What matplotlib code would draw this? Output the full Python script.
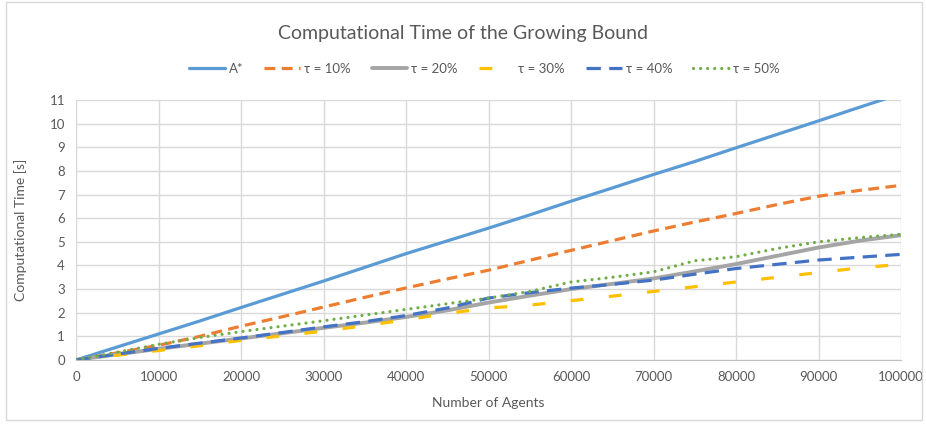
import matplotlib
matplotlib.use("Agg")
import matplotlib.pyplot as plt
from matplotlib.patches import Rectangle

plt.rcParams['font.family'] = ['Lato', 'DejaVu Sans']

# Number of agents (x) and run times in seconds for each bound setting
agents = [0, 5000, 10000, 15000, 20000, 25000, 30000, 35000, 40000, 45000, 50000,
          55000, 60000, 65000, 70000, 75000, 80000, 85000, 90000, 95000, 100000]
astar = [0, 0.55, 1.1, 1.65, 2.22, 2.78, 3.34, 3.92, 4.5, 5.04, 5.58,
         6.14, 6.72, 7.28, 7.85, 8.4, 8.98, 9.55, 10.12, 10.7, 11.27]
tau10 = [0, 0.3, 0.62, 1.0, 1.43, 1.83, 2.24, 2.65, 3.05, 3.43, 3.8,
         4.22, 4.64, 5.05, 5.46, 5.84, 6.2, 6.58, 6.93, 7.18, 7.39]
tau20 = [0, 0.24, 0.47, 0.69, 0.91, 1.13, 1.36, 1.58, 1.82, 2.1, 2.43,
         2.72, 3.0, 3.22, 3.45, 3.75, 4.06, 4.41, 4.76, 5.05, 5.28]
tau30 = [0, 0.2, 0.4, 0.6, 0.83, 1.02, 1.22, 1.45, 1.7, 1.97, 2.2,
         2.32, 2.51, 2.7, 2.9, 3.1, 3.3, 3.5, 3.7, 3.9, 4.05]
tau40 = [0, 0.25, 0.49, 0.71, 0.93, 1.16, 1.4, 1.62, 1.88, 2.2, 2.62,
         2.85, 3.04, 3.2, 3.38, 3.63, 3.87, 4.05, 4.23, 4.35, 4.47]
tau50 = [0, 0.33, 0.66, 0.95, 1.2, 1.43, 1.66, 1.9, 2.14, 2.38, 2.62,
         2.9, 3.3, 3.5, 3.73, 4.2, 4.37, 4.72, 5.0, 5.18, 5.32]

labels = ['A*', 'τ = 10%', 'τ = 20%', 'τ = 30%', 'τ = 40%', 'τ = 50%']
x_ticks = list(range(0, 100001, 10000))
y_ticks = list(range(0, 12))

text_color = '#595959'
grid_color = '#d9d9d9'

fig = plt.figure(figsize=(9.26, 4.24), dpi=100)
ax = fig.add_axes([0.0821, 0.151, 0.891, 0.613])

lw = 2.3
ax.plot(agents, astar, color='#5B9BD5', lw=lw, label=labels[0], solid_capstyle='round')
ax.plot(agents, tau10, color='#ED7D31', lw=lw, label=labels[1], dashes=(3.4, 2.0))
ax.plot(agents, tau20, color='#A5A5A5', lw=lw + 0.5, label=labels[2], solid_capstyle='round')
ax.plot(agents, tau30, color='#FFC000', lw=lw, label=labels[3], dashes=(4.0, 8.0))
ax.plot(agents, tau40, color='#4472C4', lw=lw, label=labels[4], dashes=(4.5, 2.6))
ax.plot(agents, tau50, color='#70AD47', lw=lw, label=labels[5],
        dashes=(0.01, 2.2), dash_capstyle='round')

ax.set_xlim(0, 100000)
ax.set_ylim(0, 11)
ax.set_xticks(x_ticks)
ax.set_xticklabels([str(t) for t in x_ticks])
ax.set_yticks(y_ticks)
ax.grid(True, color=grid_color, lw=1.0)
ax.set_axisbelow(True)
for side in ['top', 'right', 'left']:
    ax.spines[side].set_visible(False)
ax.spines['bottom'].set_color('#bfbfbf')
ax.tick_params(length=0, labelsize=9.5, colors=text_color, pad=8)

ax.set_xlabel('Number of Agents', fontsize=10, color=text_color, labelpad=10)
ax.set_ylabel('Computational Time [s]', fontsize=10, color=text_color)
ax.yaxis.set_label_coords(-0.059, 0.5)

fig.suptitle('Computational Time of the Growing Bound', fontsize=14,
             color=text_color, y=0.92, va='center')
fig.legend(loc='center', bbox_to_anchor=(0.523, 0.837), ncol=6, frameon=False,
           fontsize=9.5, labelcolor=text_color, handlelength=2.7,
           columnspacing=1.6, handletextpad=0.3)

# thin frame around the whole chart area
fig.patches.append(Rectangle((0.006, 0.01), 0.99, 0.985, transform=fig.transFigure,
                             fill=False, edgecolor='#d9d9d9', lw=1.0))

fig.savefig('out.png', dpi=100)
